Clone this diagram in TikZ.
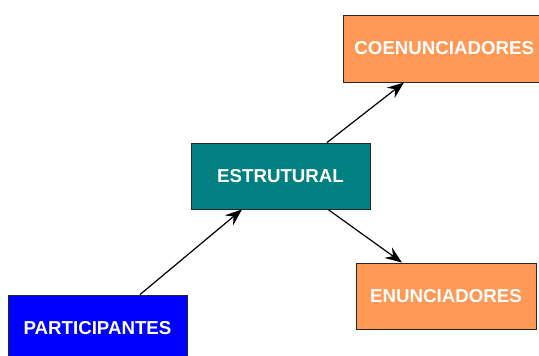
\documentclass[tikz,border=0pt]{standalone}
\usepackage{fontspec}
\setmainfont{Liberation Sans}
\usetikzlibrary{arrows.meta}

\definecolor{caixaazul}{RGB}{0,0,255}
\definecolor{caixaverde}{RGB}{0,128,128}
\definecolor{caixalaranja}{RGB}{255,153,85}

\begin{document}
\begin{tikzpicture}[x=1pt,y=1pt,
  caixa/.style={draw=black!85,line width=0.9pt,minimum height=66,inner xsep=11,
    text=white,font=\fontsize{18.7}{21}\selectfont\bfseries},
  seta/.style={-{Stealth[length=17,width=13,inset=6]},line width=1.2pt}]
  \useasboundingbox (0,0) rectangle (539,-356);
  % Boxes
  \node[caixa,fill=caixaazul,minimum width=179] (part) at (97.5,-328) {PARTICIPANTES};
  \node[caixa,fill=caixaverde,minimum width=179] (estr) at (280.5,-176) {ESTRUTURAL};
  \node[caixa,fill=caixalaranja,minimum height=67,text width=181,align=left,anchor=west] (coen) at (343,-48.5) {COENUNCIADORES};
  \node[caixa,fill=caixalaranja,minimum width=180] (enun) at (446,-296) {ENUNCIADORES};
  % Arrows
  \draw[seta] ([xshift=42.5]part.north) -- ([xshift=-38.5]estr.south);
  \draw[seta] ([xshift=46.5]estr.north) -- ([xshift=61]coen.south west);
  \draw[seta] ([xshift=47.5]estr.south) -- ([xshift=-44]enun.north);
\end{tikzpicture}
\end{document}
